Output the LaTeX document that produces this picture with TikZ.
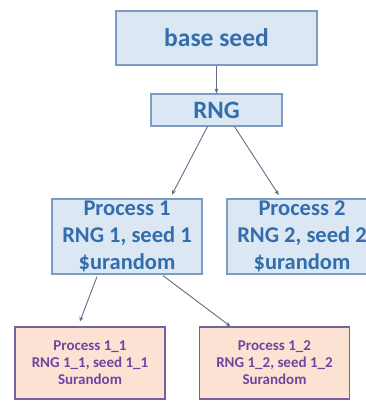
\documentclass[tikz,border=0pt]{standalone}
\usepackage{fontspec}
\setmainfont{Carlito}
\usetikzlibrary{arrows.meta,calc}
\definecolor{bluefill}{RGB}{220,231,244}
\definecolor{blueedge}{RGB}{125,155,195}
\definecolor{bluetext}{RGB}{50,110,172}
\definecolor{peachfill}{RGB}{252,226,210}
\definecolor{purpleedge}{RGB}{120,95,160}
\definecolor{purpletext}{RGB}{110,70,160}
\definecolor{arrowcol}{RGB}{95,110,135}
\tikzset{
  bluebox/.style={draw=blueedge, line width=1.2pt, fill=bluefill, text=bluetext, font=\bfseries, align=center, inner sep=0pt},
  peachbox/.style={draw=purpleedge, line width=1.2pt, fill=peachfill, text=purpletext, font=\bfseries\fontsize{15}{17}\selectfont, align=center, inner sep=0pt, minimum width=150pt, minimum height=72pt},
  conn/.style={draw=arrowcol, line width=0.9pt, -{Stealth[length=5pt,width=4pt]}}
}
\begin{document}
\begin{tikzpicture}[x=1pt,y=-1pt]
\useasboundingbox (0,0) rectangle (366,401);
\begin{scope}
\clip (0,0) rectangle (366,401);
\node[bluebox, minimum width=201pt, minimum height=54pt, font=\bfseries\fontsize{25.5}{28}\selectfont] (base) at (216.5,38) {base seed};
\node[bluebox, minimum width=131pt, minimum height=32pt, font=\bfseries\fontsize{25}{28}\selectfont] (rng) at (216.5,110) {RNG};
\node[bluebox, minimum width=150pt, minimum height=75pt, font=\bfseries\fontsize{22.5}{27}\selectfont] (p1) at (127,236.5) {Process 1\\RNG 1, seed 1\\\$urandom};
\node[bluebox, minimum width=150pt, minimum height=75pt, font=\bfseries\fontsize{22.5}{27}\selectfont] (p2) at (302,236.5) {Process 2\\RNG 2, seed 2\\\$urandom};
\node[peachbox] (p11) at (90,363) {Process 1\_1\\RNG 1\_1, seed 1\_1\\Surandom};
\node[peachbox] (p12) at (274.5,363) {Process 1\_2\\RNG 1\_2, seed 1\_2\\Surandom};
\draw[conn] (base.south) -- (rng.north);
\draw[conn, shorten >=4pt] ($(rng.south)+(-9,0)$) -- ($(p1.north)+(43,0)$);
\draw[conn, shorten >=4pt] ($(rng.south)+(18,0)$) -- ($(p2.north)+(-21,0)$);
\draw[conn, shorten >=5pt] ($(p1.south)+(-30,2)$) -- ($(p11.north)+(-12,0)$);
\draw[conn] ($(p1.south)+(36,1)$) -- ($(p12.north)+(-44,0)$);
\end{scope}
\end{tikzpicture}
\end{document}
